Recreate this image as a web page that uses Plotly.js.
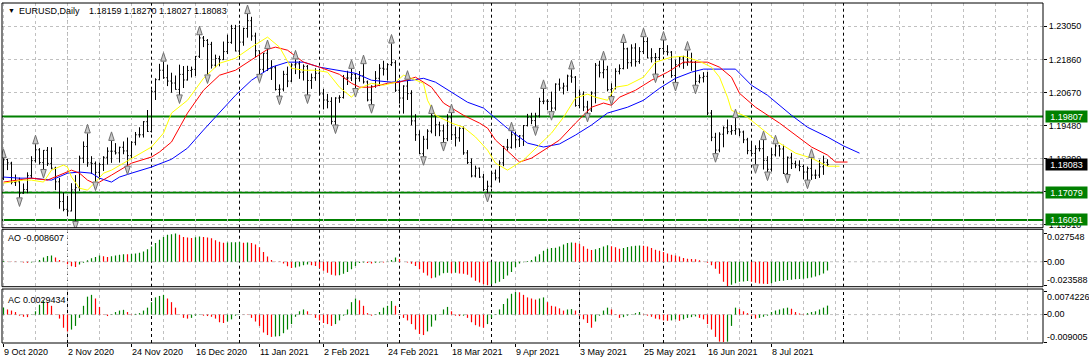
<!DOCTYPE html>
<html><head><meta charset="utf-8">
<script src="https://cdn.plot.ly/plotly-3.0.1.min.js"></script>
<style>html,body{margin:0;padding:0;background:#fff;overflow:hidden}#chart{width:1089px;height:364px}</style>
</head><body><div id="chart"></div>
<script>
// ---------- DATA (EURUSD Daily, bar 0 = 9 Oct 2020) ----------
const openP = [
1.1759,1.1826,1.1813,1.1744,1.1746,1.1705,1.1718,1.1768,1.1822,1.1861,
1.1815,1.1859,1.1812,1.1795,1.1746,1.1675,1.1647,1.1641,1.1717,1.1725,
1.1831,1.1873,1.1814,1.1812,1.1780,1.1808,1.1834,1.1856,1.1856,1.1850,
1.1870,1.1857,1.1840,1.1888,1.1915,1.1915,1.1962,1.1927,1.2071,1.2113,
1.2147,1.2120,1.2108,1.2101,1.2078,1.2132,1.2112,1.2146,1.2150,1.2197,
1.2263,1.2254,1.2240,1.2165,1.2189,1.2185,1.2214,1.2247,1.2297,1.2216,
1.2248,1.2297,1.2325,1.2270,1.2217,1.2150,1.2208,1.2153,1.2156,1.2078,
1.2079,1.2132,1.2108,1.2166,1.2170,1.2140,1.2161,1.2110,1.2120,1.2136,
1.2062,1.2040,1.2035,1.1963,1.2047,1.2049,1.2119,1.2119,1.2132,1.2118,
1.2127,1.2105,1.2040,1.2089,1.2118,1.2154,1.2151,1.2167,1.2174,1.2075,
1.2047,1.2090,1.2063,1.1965,1.1915,1.1847,1.1899,1.1928,1.1985,1.1951,
1.1929,1.1901,1.1976,1.1915,1.1904,1.1938,1.1850,1.1815,1.1767,1.1795,
1.1763,1.1718,1.1730,1.1777,1.1760,1.1814,1.1871,1.1870,1.1915,1.1897,
1.1911,1.1948,1.1978,1.1966,1.1983,1.2035,1.2036,1.2035,1.2011,1.2097,
1.2083,1.2090,1.2126,1.2122,1.2020,1.2061,1.2015,1.2004,1.2065,1.2165,
1.2138,1.2149,1.2077,1.2081,1.2143,1.2153,1.2224,1.2174,1.2227,1.2178,
1.2214,1.2250,1.2191,1.2192,1.2193,1.2225,1.2214,1.2212,1.2128,1.2167,
1.2191,1.2174,1.2179,1.2175,1.2107,1.2120,1.2125,1.1993,1.1906,1.1860,
1.1917,1.1940,1.1926,1.1930,1.1936,1.1925,1.1897,1.1858,1.1848,1.1865,
1.1865,1.1823,1.1791,1.1843,1.1875,1.1864,1.1776,1.1834,1.1812,1.1806,
1.1801,1.1781,1.1794,1.1770,1.1770,1.1800,1.18159];
const highP = [
1.1831,1.1829,1.1818,1.1772,1.1761,1.1740,1.1780,1.1838,1.1881,1.1867,
1.1860,1.1871,1.1870,1.1800,1.1760,1.1707,1.1695,1.1741,1.1770,1.1840,
1.1891,1.1920,1.1838,1.1819,1.1815,1.1838,1.1870,1.1893,1.1885,1.1872,
1.1891,1.1905,1.1892,1.1925,1.1942,1.1964,1.2004,1.2077,1.2118,1.2170,
1.2178,1.2167,1.2138,1.2128,1.2167,1.2162,1.2163,1.2160,1.2198,1.2273,
1.2270,1.2259,1.2249,1.2203,1.2199,1.2250,1.2275,1.2310,1.2310,1.2310,
1.2300,1.2349,1.2339,1.2282,1.2218,1.2209,1.2223,1.2183,1.2163,1.2096,
1.2145,1.2160,1.2172,1.2186,1.2180,1.2168,1.2166,1.2135,1.2154,1.2152,
1.2080,1.2062,1.2050,1.2050,1.2057,1.2130,1.2145,1.2152,1.2137,1.2144,
1.2169,1.2110,1.2093,1.2144,1.2169,1.2181,1.2172,1.2243,1.2183,1.2110,
1.2093,1.2113,1.2075,1.1989,1.1931,1.1911,1.1935,1.1990,1.1986,1.1962,
1.1952,1.1989,1.1993,1.1944,1.1942,1.1945,1.1860,1.1830,1.1804,1.1797,
1.1774,1.1750,1.1782,1.1790,1.1823,1.1875,1.1900,1.1928,1.1926,1.1914,
1.1950,1.1990,1.1994,1.1994,1.2048,1.2080,1.2043,1.2070,1.2100,1.2117,
1.2102,1.2131,1.2150,1.2126,1.2077,1.2071,1.2037,1.2071,1.2173,1.2181,
1.2183,1.2163,1.2100,1.2154,1.2168,1.2245,1.2228,1.2240,1.2244,1.2230,
1.2266,1.2265,1.2226,1.2209,1.2227,1.2254,1.2237,1.2216,1.2185,1.2196,
1.2199,1.2218,1.2210,1.2180,1.2131,1.2140,1.2141,1.2004,1.1922,1.1924,
1.1945,1.1970,1.1950,1.1975,1.1937,1.1930,1.1904,1.1885,1.1877,1.1895,
1.1896,1.1838,1.1868,1.1881,1.1878,1.1879,1.1837,1.1850,1.1822,1.1823,
1.1808,1.1801,1.1832,1.1790,1.1825,1.1840,1.18270];
const lowP = [
1.1752,1.1788,1.1737,1.1731,1.1688,1.1703,1.1705,1.1759,1.1815,1.1808,
1.1790,1.1803,1.1791,1.1716,1.1649,1.1640,1.1622,1.1640,1.1603,1.1713,
1.1813,1.1800,1.1774,1.1745,1.1755,1.1785,1.1808,1.1814,1.1844,1.1815,
1.1845,1.1802,1.1830,1.1877,1.1905,1.1905,1.1925,1.1923,1.2040,1.2111,
1.2116,1.2090,1.2066,1.2077,1.2058,1.2083,1.2110,1.2121,1.2126,1.2191,
1.2230,1.2130,1.2153,1.2157,1.2161,1.2184,1.2205,1.2242,1.2215,1.2194,
1.2235,1.2264,1.2253,1.2193,1.2132,1.2138,1.2144,1.2112,1.2074,1.2054,
1.2071,1.2086,1.2104,1.2133,1.2116,1.2110,1.2058,1.2080,1.2109,1.2057,
1.2006,1.2010,1.1952,1.1950,1.2030,1.2045,1.2094,1.2108,1.2081,1.2106,
1.2099,1.2035,1.2023,1.2084,1.2090,1.2128,1.2110,1.2162,1.2069,1.2027,
1.1991,1.2040,1.1949,1.1893,1.1846,1.1836,1.1863,1.1920,1.1910,1.1910,
1.1887,1.1892,1.1896,1.1873,1.1890,1.1843,1.1810,1.1762,1.1762,1.1760,
1.1712,1.1704,1.1725,1.1751,1.1743,1.1802,1.1858,1.1865,1.1868,1.1871,
1.1875,1.1945,1.1953,1.1943,1.1977,1.2025,1.2003,1.1998,1.2002,1.2073,
1.2060,1.2072,1.2102,1.2016,1.2010,1.2000,1.1992,1.1997,1.2028,1.2121,
1.2118,1.2071,1.2052,1.2078,1.2132,1.2150,1.2152,1.2160,1.2160,1.2170,
1.2205,1.2190,1.2175,1.2133,1.2183,1.2203,1.2200,1.2120,1.2103,1.2157,
1.2152,1.2163,1.2145,1.2093,1.2100,1.2103,1.1985,1.1892,1.1847,1.1852,
1.1870,1.1917,1.1915,1.1915,1.1910,1.1885,1.1845,1.1837,1.1807,1.1855,
1.1790,1.1781,1.1783,1.1837,1.1837,1.1774,1.1772,1.1792,1.1795,1.1784,
1.1755,1.1752,1.1753,1.1756,1.1760,1.1771,1.18027];
const closeP = [
1.1825,1.1814,1.1744,1.1746,1.1705,1.1718,1.1768,1.1822,1.1861,1.1815,
1.1859,1.1812,1.1795,1.1746,1.1675,1.1647,1.1641,1.1717,1.1725,1.1831,
1.1873,1.1814,1.1812,1.1780,1.1808,1.1834,1.1856,1.1856,1.1850,1.1870,
1.1857,1.1840,1.1888,1.1915,1.1915,1.1962,1.1927,1.2071,1.2113,1.2147,
1.2120,1.2108,1.2101,1.2078,1.2132,1.2112,1.2146,1.2150,1.2197,1.2263,
1.2254,1.2240,1.2165,1.2189,1.2185,1.2214,1.2247,1.2297,1.2216,1.2248,
1.2297,1.2325,1.2270,1.2217,1.2150,1.2208,1.2153,1.2156,1.2078,1.2079,
1.2132,1.2108,1.2166,1.2170,1.2140,1.2161,1.2110,1.2120,1.2136,1.2062,
1.2040,1.2035,1.1963,1.2047,1.2049,1.2119,1.2119,1.2132,1.2118,1.2127,
1.2105,1.2040,1.2089,1.2118,1.2154,1.2151,1.2167,1.2174,1.2075,1.2047,
1.2090,1.2063,1.1965,1.1915,1.1847,1.1899,1.1928,1.1985,1.1951,1.1929,
1.1901,1.1976,1.1915,1.1904,1.1938,1.1850,1.1815,1.1767,1.1795,1.1763,
1.1718,1.1730,1.1777,1.1760,1.1814,1.1871,1.1870,1.1915,1.1897,1.1911,
1.1948,1.1978,1.1966,1.1983,1.2035,1.2036,1.2035,1.2011,1.2097,1.2083,
1.2090,1.2126,1.2122,1.2020,1.2061,1.2015,1.2004,1.2065,1.2165,1.2138,
1.2149,1.2077,1.2081,1.2143,1.2153,1.2224,1.2174,1.2227,1.2178,1.2214,
1.2250,1.2191,1.2192,1.2193,1.2225,1.2214,1.2212,1.2128,1.2167,1.2191,
1.2174,1.2179,1.2175,1.2107,1.2120,1.2125,1.1993,1.1906,1.1860,1.1917,
1.1940,1.1926,1.1930,1.1936,1.1925,1.1897,1.1858,1.1848,1.1865,1.1865,
1.1823,1.1791,1.1843,1.1875,1.1864,1.1776,1.1834,1.1812,1.1806,1.1801,
1.1781,1.1794,1.1770,1.1770,1.1800,1.1816,1.18083];

// Alligator lines (bar position, price)
const jawIdx = [0,4,7,12,16,19,22,24,27,29,32,37,42,46,50,54,58,62,67,71,75,79,84,88,92,97,102,105,108,112,116,120,122,126,131,135,139,143,147,151,156,160,164,168,172,175,180,183,187,191,197,201,206,210,214];
const jawVal = [1.1763,1.1759,1.1759,1.1752,1.1777,1.1781,1.1777,1.1759,1.1745,1.1763,1.1777,1.1799,1.1827,1.1867,1.1932,1.1993,1.2057,1.2111,1.2158,1.2176,1.2176,1.2158,1.2147,1.2136,1.2111,1.2104,1.2111,1.2118,1.2104,1.2068,1.2032,1.2011,1.1986,1.1938,1.1885,1.1871,1.1882,1.1914,1.1950,1.1993,1.2014,1.2039,1.2082,1.2118,1.2140,1.2151,1.2151,1.2151,1.2093,1.2057,1.1985,1.1942,1.1907,1.1875,1.1849];
const teethIdx = [0,4,7,11,14,16,17,19,21,23,24,27,30,32,37,39,42,46,50,54,58,62,66,68,71,75,79,84,87,89,92,96,99,103,107,110,112,115,119,121,123,126,129,132,135,139,143,147,150,152,154,158,162,166,170,176,179,182,184,188,194,198,202,206,208,211];
const teethVal = [1.1745,1.1752,1.1759,1.1752,1.1770,1.1781,1.1788,1.1777,1.1752,1.1738,1.1745,1.1770,1.1795,1.1813,1.1835,1.1853,1.1889,1.1993,1.2075,1.2129,1.2147,1.2183,1.2222,1.2230,1.2219,1.2176,1.2158,1.2132,1.2100,1.2086,1.2086,1.2100,1.2104,1.2122,1.2086,1.2029,1.2011,1.1985,1.1957,1.1939,1.1896,1.1855,1.1817,1.1831,1.1860,1.1896,1.1957,1.2014,1.2029,1.2021,1.2050,1.2075,1.2111,1.2140,1.2176,1.2176,1.2158,1.2122,1.2064,1.2014,1.1957,1.1914,1.1871,1.1842,1.1817,1.1817];
const lipsIdx = [0,2,5,7,10,12,15,16,17,19,21,23,25,27,30,32,37,40,42,46,50,54,58,62,66,69,71,72,75,78,81,84,87,89,92,95,98,100,102,105,106,108,112,115,118,121,123,126,130,133,137,140,143,146,148,151,153,156,160,163,167,170,174,177,179,181,182,186,190,194,198,202,206,209];
const lipsVal = [1.1741,1.1745,1.1752,1.1752,1.1745,1.1788,1.1806,1.1799,1.1763,1.1723,1.1716,1.1745,1.1777,1.1788,1.1813,1.1831,1.1871,1.1921,1.1993,1.2039,1.2118,1.2172,1.2190,1.2230,1.2266,1.2230,1.2176,1.2154,1.2147,1.2147,1.2140,1.2086,1.2050,1.2082,1.2100,1.2093,1.2104,1.2129,1.2118,1.2100,1.2039,1.1985,1.1957,1.1942,1.1907,1.1860,1.1813,1.1788,1.1824,1.1867,1.1921,1.1978,1.2047,1.2061,1.2050,1.2039,1.2086,1.2093,1.2122,1.2176,1.2194,1.2197,1.2179,1.2158,1.2122,1.2050,1.2003,1.1978,1.1932,1.1885,1.1849,1.1831,1.1802,1.1802];

// Fractal bars
const upFractalIdx = [0,8,21,27,40,49,61,66,73,87,90,97,101,107,112,127,135,142,150,155,160,165,171,183,190,193,202];
const downFractalIdx = [4,10,18,23,31,44,51,64,69,76,83,88,92,105,110,121,133,137,146,152,163,168,173,178,188,191,196,201];

// Awesome Oscillator
const aoVal = [
0.00067,0.00034,0.00034,0.00034,0.0001,-0.00067,-0.00101,-0.00067,0.0002,0.00168,
0.00403,0.00571,0.00605,0.00403,0.00168,-0.0002,-0.00235,-0.00437,-0.00504,-0.00269,
-0.00101,0.00134,0.00336,0.0047,0.00605,0.00538,0.0047,0.00538,0.00605,0.00672,
0.00739,0.0073,0.00745,0.00806,0.00874,0.01008,0.0121,0.01478,0.01814,0.0215,
0.02419,0.02621,0.02688,0.027548,0.02621,0.02419,0.02352,0.02318,0.02386,0.02453,
0.02419,0.02352,0.02285,0.02083,0.01949,0.01848,0.01882,0.0189,0.019,0.01915,
0.01848,0.01882,0.01814,0.0168,0.01411,0.00941,0.00504,0.00168,0.00034,-0.00034,
-0.00168,-0.00437,-0.00605,-0.00571,-0.0047,-0.00336,-0.00269,-0.00336,-0.00403,-0.00605,
-0.00874,-0.01075,-0.01277,-0.01344,-0.0131,-0.01176,-0.01008,-0.00739,-0.00403,-0.00134,
-0.00067,-0.00134,-0.00168,-0.00101,-0.00067,-0.0007,0.0002,0.00168,0.00403,0.00269,
-0.0001,-0.00067,-0.00202,-0.00403,-0.00739,-0.01075,-0.01344,-0.01613,-0.01546,-0.01344,
-0.01109,-0.01075,-0.01109,-0.01075,-0.01142,-0.01176,-0.01277,-0.01546,-0.01848,-0.02016,
-0.02184,-0.02285,-0.02184,-0.02083,-0.01949,-0.0168,-0.01344,-0.01008,-0.00504,-0.00168,
-0.0005,0.00067,0.00168,0.00504,0.00739,0.01075,0.01277,0.01344,0.0136,0.01478,
0.0168,0.01814,0.01882,0.01848,0.01747,0.01512,0.01277,0.01142,0.0121,0.01344,
0.01478,0.01613,0.01512,0.01411,0.01277,0.01344,0.01445,0.01512,0.01546,0.01579,
0.01546,0.01478,0.01344,0.01176,0.01075,0.00941,0.00806,0.00672,0.00605,0.00504,
0.0037,0.00302,0.00269,0.00235,0.00134,0.00034,-0.00101,-0.00336,-0.00672,-0.01176,
-0.01949,-0.023588,-0.02251,-0.02083,-0.01949,-0.01915,-0.01882,-0.01949,-0.0205,-0.02117,
-0.0215,-0.02155,-0.02083,-0.01949,-0.01882,-0.01848,-0.01781,-0.01747,-0.01714,-0.0168,
-0.01646,-0.01613,-0.01546,-0.01445,-0.0131,-0.01142,-0.008607];
// Accelerator Oscillator
const acVal = [
0.00228,0.00168,0.00132,0.00084,-0.00036,-0.00072,-0.00084,-0.00012,0.00108,0.00324,
0.00444,0.00408,0.00288,0.00012,-0.00132,-0.00432,-0.00552,-0.00492,-0.00372,-0.00108,
0.00288,0.00588,0.00648,0.00528,0.00252,0.00012,-0.00048,-0.00012,0.00084,0.00132,
0.00156,0.00084,0.00012,0.00024,0.00048,0.00132,0.00228,0.00408,0.00564,0.00612,
0.00648,0.00528,0.00408,0.00228,0.00012,-0.00108,-0.00132,-0.00108,-0.00036,-0.00012,
-0.00036,-0.00048,-0.00072,-0.00132,-0.00252,-0.00276,-0.00228,-0.00156,-0.00036,0.00012,
0.00005,-0.00012,-0.00108,-0.00228,-0.00372,-0.00588,-0.00672,-0.00732,-0.0072,-0.00708,
-0.00612,-0.00492,-0.00312,-0.00072,0.00108,0.00168,0.00108,0.00012,-0.00108,-0.00192,
-0.00276,-0.00312,-0.00372,-0.00312,-0.00192,-0.00036,0.00168,0.00408,0.00528,0.00468,
0.00288,0.00048,-0.00036,-0.00012,0.00084,0.00228,0.00288,0.00444,0.00288,0.00012,
-0.00108,-0.00192,-0.00312,-0.00492,-0.00636,-0.00672,-0.00552,-0.00396,-0.00192,0.00012,
0.00168,0.00252,0.00108,-0.00036,-0.00048,-0.00036,-0.00108,-0.00252,-0.00348,-0.00396,
-0.00432,-0.00312,-0.00108,0.00012,0.00168,0.00348,0.00528,0.00684,0.0074226,0.00732,
0.00648,0.00564,0.00528,0.00492,0.00528,0.00564,0.00408,0.00288,0.00264,0.00204,
0.00132,0.00168,0.0018,0.00132,-0.00036,-0.00156,-0.00276,-0.00432,-0.00228,-0.00036,
0.00132,0.00228,0.00168,0.00012,-0.00108,-0.00084,-0.00036,0.00012,0.00048,0.00084,
0.00012,-0.00036,-0.00072,-0.00132,-0.00156,-0.00192,-0.00204,-0.00192,-0.00156,-0.00204,
-0.00156,-0.00108,-0.00084,-0.0006,-0.00108,-0.00156,-0.00312,-0.00492,-0.00732,-0.00888,
-0.009005,-0.0089,-0.00372,0.00228,0.0018,0.00108,0.00048,-0.00036,-0.00132,-0.00108,
-0.00072,-0.00036,0.00084,0.00132,0.00168,0.00204,0.00228,0.00192,0.00084,0.00036,
0.00012,0.00048,0.00084,0.00108,0.00168,0.00228,0.0029434];

// Axis labels and levels
const tickIdx = [0,16,32,48,64,80,96,112,128,144,160,176,192];
const tickText = ['9 Oct 2020','2 Nov 2020','24 Nov 2020','16 Dec 2020','11 Jan 2021','2 Feb 2021','24 Feb 2021','18 Mar 2021','9 Apr 2021','3 May 2021','25 May 2021','16 Jun 2021','8 Jul 2021'];
const monthSepIdx = [16,37,59,79,99,122,144,165,187,210];
const priceTicks = [1.15910,1.17100,1.18290,1.19480,1.20670,1.21860,1.23050];
const levelLines = [1.19807,1.17079,1.16091];
const bidPrice = 1.18083;
const headerSymbol = 'EURUSD,Daily';
const headerOHLC = '1.18159 1.18270 1.18027 1.18083';
const aoLabel = 'AO -0.008607';
const acLabel = 'AC 0.0029434';
const aoScale = [0.027548, 0, -0.023588];
const aoScaleText = ['0.027548','0.00','-0.023588'];
const acScale = [0.0074226, 0, -0.009005];
const acScaleText = ['0.0074226','0.00','-0.009005'];

// ---------- DRAWING ----------
const W = 1089, H = 364, ML = 2, MR = 46, MT = 3, MB = 21;
const PW = W - ML - MR, PH = H - MT - MB;
const ax = px => (px - ML) / PW;
const ay = py => (H - MB - py) / PH;
const barIdx = openP.map((_, i) => i);
const FONT = 'Liberation Sans, Arial, sans-serif';
const GRID = '#c0c0c0', DASH = '3px,3px';
const mainRange = [1.1581, 1.23886];
const pxPrice = (mainRange[1] - mainRange[0]) / (227.7 - 3);
const domMain = [ay(227.7), 1], domAO = [ay(286.7), ay(229.3)], domAC = [0, ay(289)];

const colorOf = arr => arr.map((v, i) => (i === 0 || v > arr[i-1]) ? '#008000' : '#ff0000');

const traces = [
  {type:'ohlc', x:barIdx, open:openP, high:highP, low:lowP, close:closeP,
   increasing:{line:{color:'#000', width:1}}, decreasing:{line:{color:'#000', width:1}},
   tickwidth:0.3, xaxis:'x', yaxis:'y', hoverinfo:'none'},
  {type:'scatter', mode:'lines', x:jawIdx, y:jawVal, line:{color:'#0000ff', width:1}, xaxis:'x', yaxis:'y', hoverinfo:'skip'},
  {type:'scatter', mode:'lines', x:teethIdx, y:teethVal, line:{color:'#ff0000', width:1}, xaxis:'x', yaxis:'y', hoverinfo:'skip'},
  {type:'scatter', mode:'lines', x:lipsIdx, y:lipsVal, line:{color:'#ffff00', width:1}, xaxis:'x', yaxis:'y', hoverinfo:'skip'},
  {type:'scatter', mode:'markers', x:upFractalIdx, y:upFractalIdx.map(i => highP[i] + 9*pxPrice),
   marker:{symbol:'arrow', angle:0, size:9, color:'#c8c8c8', line:{color:'#707070', width:1}}, xaxis:'x', yaxis:'y', hoverinfo:'skip'},
  {type:'scatter', mode:'markers', x:downFractalIdx, y:downFractalIdx.map(i => lowP[i] - 8.5*pxPrice),
   marker:{symbol:'arrow', angle:180, size:9, color:'#c8c8c8', line:{color:'#707070', width:1}}, xaxis:'x', yaxis:'y', hoverinfo:'skip'},
  {type:'bar', x:barIdx, y:aoVal, width:0.3, marker:{color:colorOf(aoVal), line:{width:0}}, xaxis:'x', yaxis:'y2', hoverinfo:'skip'},
  {type:'bar', x:barIdx, y:acVal, width:0.3, marker:{color:colorOf(acVal), line:{width:0}}, xaxis:'x', yaxis:'y3', hoverinfo:'skip'}
];

const shapes = [];
[domMain, domAO, domAC].forEach(d => {
  monthSepIdx.forEach(s => shapes.push({type:'line', xref:'x', x0:s, x1:s, yref:'paper', y0:d[0], y1:d[1],
    line:{color:'#000', width:1, dash:DASH}, layer:'below'}));
});
levelLines.forEach(v => shapes.push({type:'line', xref:'paper', x0:0, x1:1, yref:'y', y0:v, y1:v,
  line:{color:'#008000', width:2}, layer:'below'}));
shapes.push({type:'line', xref:'paper', x0:0, x1:1, yref:'y', y0:bidPrice, y1:bidPrice, line:{color:GRID, width:1}, layer:'below'});
shapes.push({type:'line', xref:'paper', x0:0, x1:1, yref:'y2', y0:0, y1:0, line:{color:GRID, width:1, dash:DASH}, layer:'below'});
shapes.push({type:'line', xref:'paper', x0:0, x1:1, yref:'y3', y0:0, y1:0, line:{color:GRID, width:1, dash:DASH}, layer:'below'});
[domMain, domAO, domAC].forEach(d => shapes.push({type:'rect', xref:'paper', x0:0, x1:1, yref:'paper', y0:d[0], y1:d[1],
  line:{color:'#000', width:1}, fillcolor:'rgba(0,0,0,0)', layer:'above'}));

const txt = (text, xpx, ypx, extra) => Object.assign({text, xref:'paper', yref:'paper', x:ax(xpx), y:ay(ypx),
  xanchor:'left', yanchor:'middle', showarrow:false, font:{family:FONT, size:9, color:'#000'}, borderpad:0}, extra || {});

const annotations = [
  txt('▼', 6.5, 10.5, {font:{family:FONT, size:7, color:'#000'}}),
  txt(headerSymbol, 17.5, 11),
  txt(headerOHLC, 87.5, 11),
  txt(aoLabel, 7, 238),
  txt(acLabel, 7, 299.5)
];
const aoLabelPx = [236.7, 261.7, 280];
const acLabelPx = [296.7, 314.3, 336.7];
aoScaleText.forEach((t, k) => annotations.push(txt(t, 1046, aoLabelPx[k])));
acScaleText.forEach((t, k) => annotations.push(txt(t, 1046, acLabelPx[k])));
const boxLabel = (v, bg) => ({text:v.toFixed(5), xref:'paper', x:1, xshift:2, xanchor:'left', yref:'y', y:v, yanchor:'middle',
  showarrow:false, bgcolor:bg, width:41, height:11, borderpad:0, font:{family:FONT, size:9, color:'#fff'}});
levelLines.forEach(v => annotations.push(boxLabel(v, '#008000')));
annotations.push(boxLabel(bidPrice, '#000'));

const layout = {
  width:W, height:H, margin:{l:ML, r:MR, t:MT, b:MB, pad:0},
  paper_bgcolor:'#fff', plot_bgcolor:'#fff', showlegend:false, hovermode:false, dragmode:false,
  font:{family:FONT, size:9, color:'#000'},
  xaxis:{range:[-0.375, 259.875], anchor:'y3', fixedrange:true, zeroline:false, showline:false,
    tickmode:'array', tickvals:tickIdx, ticktext:tickText, ticks:'outside', ticklen:3, tickcolor:'#000',
    ticklabelposition:'outside right', tickfont:{family:FONT, size:9, color:'#000'},
    showgrid:true, gridcolor:GRID, griddash:DASH, gridwidth:1,
    minor:{tickmode:'linear', tick0:0, dtick:8, showgrid:true, gridcolor:GRID, griddash:DASH, gridwidth:1, ticks:''},
    rangeslider:{visible:false}},
  yaxis:{domain:domMain, range:mainRange, side:'right', anchor:'x', fixedrange:true,
    tickmode:'array', tickvals:priceTicks, tickformat:'.5f', ticks:'outside', ticklen:3, tickcolor:'#000',
    showgrid:true, gridcolor:GRID, griddash:DASH, zeroline:false, showline:false,
    tickfont:{family:FONT, size:9, color:'#000'}},
  yaxis2:{domain:domAO, range:[-0.0243, 0.0316], side:'right', anchor:'x', fixedrange:true,
    tickmode:'array', tickvals:aoScale, showticklabels:false, ticks:'outside', ticklen:3, tickcolor:'#000',
    showgrid:false, zeroline:false, showline:false},
  yaxis3:{domain:domAC, range:[-0.00933, 0.0084], side:'right', anchor:'x', fixedrange:true,
    tickmode:'array', tickvals:acScale, showticklabels:false, ticks:'outside', ticklen:3, tickcolor:'#000',
    showgrid:false, zeroline:false, showline:false},
  shapes, annotations
};

Plotly.newPlot('chart', traces, layout, {displayModeBar:false, staticPlot:true});
</script></body></html>
